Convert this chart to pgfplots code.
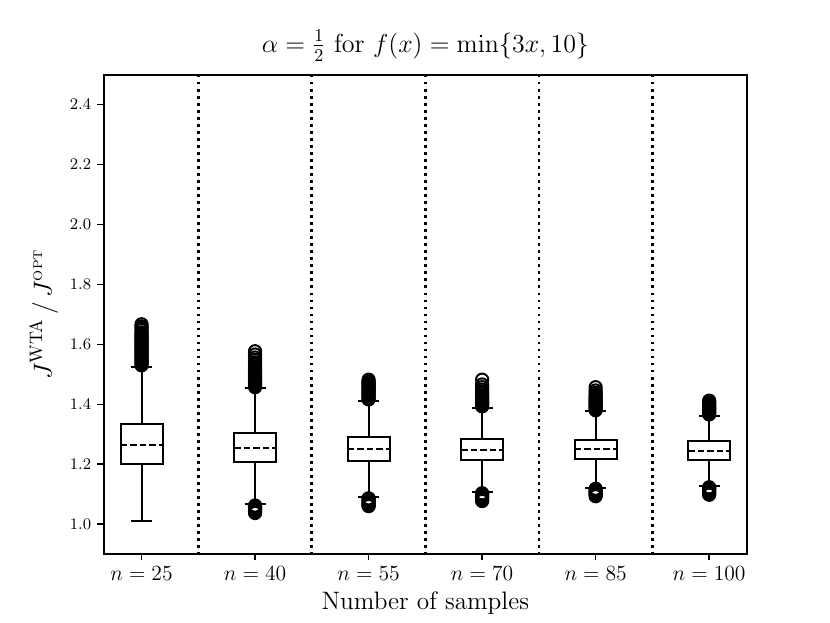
\documentclass[border=0pt]{standalone}
\usepackage{pgfplots}
\pgfplotsset{compat=1.18}
\usepgfplotslibrary{statistics}
\begin{document}
\begin{tikzpicture}
\begin{axis}[
  scale only axis, width=357.1pt, height=266.1pt,
  xmin=0.667, xmax=6.333, ymin=0.9, ymax=2.5,
  xtick={1,2,3,4,5,6},
  xticklabels={$n=25$,$n=40$,$n=55$,$n=70$,$n=85$,$n=100$},
  ytick={1.0,1.2,1.4,1.6,1.8,2.0,2.2,2.4},
  yticklabel style={/pgf/number format/fixed, /pgf/number format/fixed zerofill, /pgf/number format/precision=1, font=\fontsize{9}{11}\selectfont},
  xticklabel style={font=\fontsize{12}{14}\selectfont},
  tick align=outside, tick pos=left, major tick length=3.5pt,
  tick style={line width=0.8pt, black},
  axis line style={line width=0.9pt},
  title={$\alpha=\frac{1}{2}$ for $f(x)=\min\{3x,10\}$},
  title style={at={(axis description cs:0.5,1.038)}, anchor=center, font=\fontsize{14.5}{16}\selectfont},
  xlabel={Number of samples},
  xlabel style={at={(axis description cs:0.5,-0.102)}, anchor=center, font=\fontsize{14}{16}\selectfont},
  ylabel={$J^{\mathrm{WTA}}\,/\,J^{\scriptscriptstyle\mathrm{OPT}}$},
  ylabel style={at={(axis description cs:-0.093,0.5)}, anchor=center, font=\fontsize{14}{16}\selectfont},
  boxplot/draw direction=y,
  boxplot/box extend=0.37,
  boxplot/whisker extend=0.185,
  boxplot/every median/.style={dash pattern=on 3.7pt off 1.6pt},
  clip=false,
]
\coordinate (sw) at (rel axis cs:0,0);
% dotted separators
\addplot[black, line width=1.5pt, dash pattern=on 1.5pt off 2.4pt, forget plot] coordinates {(1.5,2.5) (1.5,0.9)};
\addplot[black, line width=1.5pt, dash pattern=on 1.5pt off 2.4pt, forget plot] coordinates {(2.5,2.5) (2.5,0.9)};
\addplot[black, line width=1.5pt, dash pattern=on 1.5pt off 2.4pt, forget plot] coordinates {(3.5,2.5) (3.5,0.9)};
\addplot[black, line width=1.5pt, dash pattern=on 1.5pt off 2.4pt, forget plot] coordinates {(4.5,2.5) (4.5,0.9)};
\addplot[black, line width=1.5pt, dash pattern=on 1.5pt off 2.4pt, forget plot] coordinates {(5.5,2.5) (5.5,0.9)};
% boxes
\addplot[black, line width=1.1pt, fill=white, mark=o, mark size=3.4pt, mark options={solid, line width=1.1pt, fill=none},
  boxplot prepared={draw position=1, lower whisker=1.009, lower quartile=1.2016, median=1.263, upper quartile=1.333, upper whisker=1.525}]
  table[row sep=\\, y index=0] {1.530\\1.535\\1.540\\1.545\\1.550\\1.555\\1.560\\1.565\\1.570\\1.575\\1.580\\1.585\\1.590\\1.595\\1.600\\1.605\\1.610\\1.615\\1.620\\1.625\\1.630\\1.635\\1.640\\1.648\\1.655\\1.660\\1.667\\};
\addplot[black, line width=1.1pt, fill=white, mark=o, mark size=3.4pt, mark options={solid, line width=1.1pt, fill=none},
  boxplot prepared={draw position=2, lower whisker=1.066, lower quartile=1.206, median=1.255, upper quartile=1.305, upper whisker=1.453}]
  table[row sep=\\, y index=0] {1.457\\1.462\\1.467\\1.472\\1.477\\1.482\\1.487\\1.492\\1.497\\1.502\\1.507\\1.512\\1.518\\1.525\\1.532\\1.540\\1.548\\1.556\\1.566\\1.577\\1.062\\1.058\\1.054\\1.050\\1.046\\1.042\\1.037\\};
\addplot[black, line width=1.1pt, fill=white, mark=o, mark size=3.4pt, mark options={solid, line width=1.1pt, fill=none},
  boxplot prepared={draw position=3, lower whisker=1.090, lower quartile=1.209, median=1.250, upper quartile=1.290, upper whisker=1.412}]
  table[row sep=\\, y index=0] {1.416\\1.420\\1.424\\1.428\\1.432\\1.436\\1.440\\1.444\\1.448\\1.452\\1.456\\1.460\\1.464\\1.468\\1.472\\1.476\\1.482\\1.086\\1.082\\1.078\\1.074\\1.070\\1.066\\1.062\\1.060\\};
\addplot[black, line width=1.1pt, fill=white, mark=o, mark size=3.4pt, mark options={solid, line width=1.1pt, fill=none},
  boxplot prepared={draw position=4, lower whisker=1.107, lower quartile=1.213, median=1.248, upper quartile=1.283, upper whisker=1.389}]
  table[row sep=\\, y index=0] {1.393\\1.397\\1.401\\1.405\\1.409\\1.413\\1.417\\1.421\\1.425\\1.430\\1.436\\1.442\\1.449\\1.457\\1.466\\1.482\\1.103\\1.099\\1.095\\1.091\\1.087\\1.082\\1.077\\};
\addplot[black, line width=1.1pt, fill=white, mark=o, mark size=3.4pt, mark options={solid, line width=1.1pt, fill=none},
  boxplot prepared={draw position=5, lower whisker=1.122, lower quartile=1.216, median=1.250, upper quartile=1.280, upper whisker=1.376}]
  table[row sep=\\, y index=0] {1.380\\1.384\\1.388\\1.392\\1.396\\1.400\\1.404\\1.408\\1.412\\1.416\\1.420\\1.425\\1.431\\1.438\\1.446\\1.457\\1.118\\1.114\\1.110\\1.106\\1.102\\1.098\\1.093\\};
\addplot[black, line width=1.1pt, fill=white, mark=o, mark size=3.4pt, mark options={solid, line width=1.1pt, fill=none},
  boxplot prepared={draw position=6, lower whisker=1.127, lower quartile=1.215, median=1.245, upper quartile=1.277, upper whisker=1.362}]
  table[row sep=\\, y index=0] {1.366\\1.370\\1.374\\1.378\\1.382\\1.386\\1.390\\1.394\\1.398\\1.402\\1.406\\1.412\\1.123\\1.119\\1.115\\1.111\\1.107\\1.103\\1.098\\};
\end{axis}
\pgfresetboundingbox
\path (sw) ++(-57.6pt,-38pt) rectangle ++(460.8pt,345.6pt);
\end{tikzpicture}
\end{document}
